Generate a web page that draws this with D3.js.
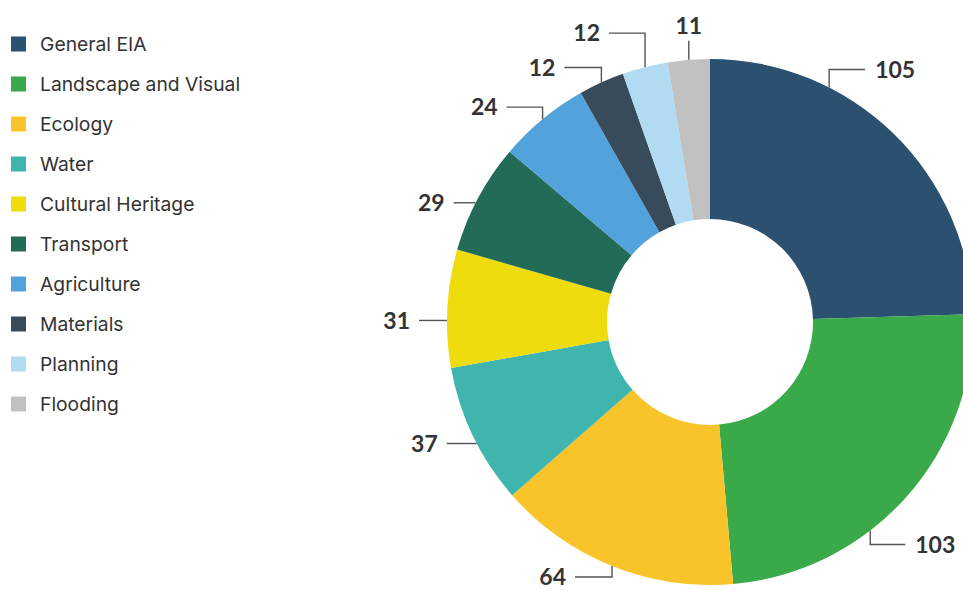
<!DOCTYPE html>
<html>
<head>
<meta charset="utf-8">
<script src="https://cdn.jsdelivr.net/npm/d3@7"></script>
<style>
  body { margin: 0; background: #ffffff; }
  svg { display: block; }
</style>
</head>
<body>
<svg id="chart" width="963" height="590"></svg>
<script>
// Number of assessments by topic
const categories = ["General EIA", "Landscape and Visual", "Ecology", "Water", "Cultural Heritage",
                    "Transport", "Agriculture", "Materials", "Planning", "Flooding"];
const values = [105, 103, 64, 37, 31, 29, 24, 12, 12, 11];
const colours = ["#2b5070", "#39a949", "#f8c42a", "#40b5ad", "#efdc0c",
                 "#226b57", "#52a3dc", "#384b5b", "#b1dbf3", "#c1c1c1"];

// Callout layout per slice: where along the slice the leader leaves the rim (0..1),
// then the vertical leg and the horizontal leg of the elbow.
const calloutAt   = [0.305, 0.625, 0.5, 0.44, 0.40, 0.45, 0.5, 0.5, 0.5, 0.5];
const calloutRise = [-18, 14, 11, 0, 0, 0, -12, -15, -34, -19];
const calloutRun  = [36, 35, -37, -30, -28, -22, -36, -37, -36, 0];

const cx = 710, cy = 322, outerR = 263, innerR = 103;
const inkColour = "#333333";
const lineColour = "#555555";
const numberFont = "Lato, 'Open Sans', sans-serif";
const legendFont = "Inter, 'Open Sans', sans-serif";

const svg = d3.select("#chart");

const rows = categories.map((c, i) => ({ name: c, value: values[i], colour: colours[i], i }));

// Donut
const pie = d3.pie().value(d => d.value).sort(null);
const arcs = pie(rows);
const arc = d3.arc().innerRadius(innerR).outerRadius(outerR);

const g = svg.append("g").attr("transform", `translate(${cx},${cy})`);
g.selectAll("path.slice")
  .data(arcs)
  .join("path")
  .attr("class", "slice")
  .attr("d", arc)
  .attr("fill", d => d.data.colour);

// Callouts with elbow leaders
const callout = g.selectAll("g.callout")
  .data(arcs)
  .join("g")
  .attr("class", "callout");

callout.each(function (d) {
  const i = d.data.i;
  const a = d.startAngle + (d.endAngle - d.startAngle) * calloutAt[i];
  const x0 = outerR * Math.sin(a), y0 = -outerR * Math.cos(a);
  const x1 = x0, y1 = y0 + calloutRise[i];
  const x2 = x1 + calloutRun[i], y2 = y1;
  const sel = d3.select(this);
  sel.append("path")
    .attr("d", d3.line()([[x0, y0], [x1, y1], [x2, y2]]))
    .attr("fill", "none")
    .attr("stroke", lineColour)
    .attr("stroke-width", 1.4);

  const t = sel.append("text")
    .text(d.data.value)
    .attr("font-family", numberFont)
    .attr("font-weight", 700)
    .attr("font-size", 23)
    .attr("fill", inkColour);
  if (calloutRun[i] > 0) {
    t.attr("x", x2 + 10).attr("y", y2).attr("dy", "0.35em").attr("text-anchor", "start");
  } else if (calloutRun[i] < 0) {
    t.attr("x", x2 - 9).attr("y", y2).attr("dy", "0.35em").attr("text-anchor", "end");
  } else {
    t.attr("x", x2).attr("y", y2 - 7).attr("text-anchor", "middle");
  }
});

// Legend
const legendY = d3.scaleBand().domain(categories).range([24, 424]);
const legend = svg.append("g").selectAll("g")
  .data(rows)
  .join("g")
  .attr("transform", d => `translate(0,${legendY(d.name) + legendY.bandwidth() / 2})`);

legend.append("rect")
  .attr("x", 11).attr("y", -7.5)
  .attr("width", 15).attr("height", 15)
  .attr("fill", d => d.colour);

legend.append("text")
  .attr("x", 40).attr("y", 0).attr("dy", "0.35em")
  .attr("font-family", legendFont)
  .attr("font-size", 19.3)
  .attr("fill", inkColour)
  .text(d => d.name);
</script>
</body>
</html>
